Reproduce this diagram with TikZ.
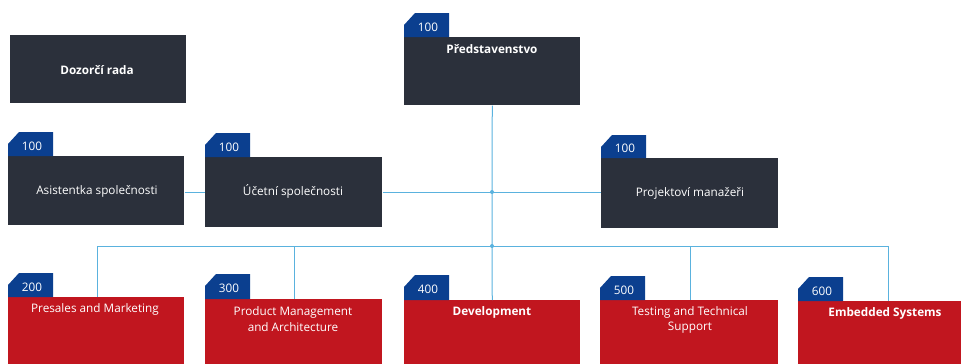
\documentclass[tikz,border=0pt]{standalone}
\usepackage{fontspec}
\setmainfont{Open Sans}
\definecolor{darkbox}{HTML}{2B303B}
\definecolor{tabblue}{HTML}{0B3F8F}
\definecolor{redbox}{HTML}{C1161F}
\definecolor{linkblue}{HTML}{5AB2DE}
\newcommand{\orgtab}[5]{% name, x, tabtop, boxtop, number
  \fill[tabblue] (#2,#3+12) -- (#2+11,#3) -- (#2+45,#3) -- (#2+45,#4) -- (#2,#4) -- cycle;
  \node[tabtxt] (#1) at (#2+24,{(#3+#4)/2+2}) {#5};
}
\begin{document}
\begin{tikzpicture}[x=0.75pt,y=-0.75pt,
  darkb/.style={fill=darkbox,draw=none,inner sep=0pt,anchor=north west},
  redb/.style={fill=redbox,draw=none,inner sep=0pt,anchor=north west},
  boxtxt/.style={text=white,font=\fontsize{8.8}{11.5}\selectfont,align=center,inner sep=0pt},
  boldtxt/.style={boxtxt,font=\fontsize{8.8}{11.5}\selectfont\bfseries},
  tabtxt/.style={text=white,font=\fontsize{8.8}{10}\selectfont,inner sep=0pt},
  link/.style={draw=linkblue,line width=0.75pt},
  dot/.style={circle,fill=linkblue,inner sep=0pt,minimum size=3pt}]
\useasboundingbox (0,0) rectangle (961,364);
% dark boxes
\node[darkb,minimum width=176*0.75pt,minimum height=68*0.75pt] (dozor) at (10,35) {};
\node[boldtxt] (dozorT) at (97,70) {Dozorčí rada};
\node[darkb,minimum width=176*0.75pt,minimum height=68*0.75pt] (pred) at (404,37) {};
\node[boldtxt] (predT) at (492,49) {Představenstvo};
\orgtab{predN}{404}{13}{37}{100}
\node[darkb,minimum width=176*0.75pt,minimum height=69*0.75pt] (asis) at (8,156) {};
\node[boxtxt] (asisT) at (97,191) {Asistentka společnosti};
\orgtab{asisN}{8}{132}{156}{100}
\node[darkb,minimum width=177*0.75pt,minimum height=70*0.75pt] (ucet) at (205,157) {};
\node[boxtxt] (ucetT) at (293,191) {Účetní společnosti};
\orgtab{ucetN}{205}{133}{157}{100}
\node[darkb,minimum width=177*0.75pt,minimum height=70*0.75pt] (proj) at (601,158) {};
\node[boxtxt] (projT) at (690,193) {Projektoví manažeři};
\orgtab{projN}{601}{135}{158}{100}
% red boxes
\node[redb,minimum width=176*0.75pt,minimum height=67*0.75pt] (pres) at (8,297) {};
\node[boxtxt] (presT) at (95,309) {Presales and Marketing};
\orgtab{presN}{8}{273}{297}{200}
\node[redb,minimum width=177*0.75pt,minimum height=65*0.75pt] (prod) at (205,299) {};
\node[boxtxt] (prodT) at (293,319) {Product Management\\and Architecture};
\orgtab{prodN}{205}{274}{299}{300}
\node[redb,minimum width=176*0.75pt,minimum height=64*0.75pt] (dev) at (404,300) {};
\node[boldtxt] (devT) at (492,312) {Development};
\orgtab{devN}{404}{275}{300}{400}
\node[redb,minimum width=178*0.75pt,minimum height=64*0.75pt] (test) at (600,300) {};
\node[boxtxt] (testT) at (690,320) {Testing and Technical\\Support};
\orgtab{testN}{600}{276}{300}{500}
\node[redb,minimum width=163*0.75pt,minimum height=63*0.75pt] (emb) at (798,301) {};
\node[boldtxt] (embT) at (885,313) {Embedded Systems};
\orgtab{embN}{798}{277}{301}{600}
% connectors
\coordinate (j1) at (492,192);
\coordinate (j2) at (492,246);
\coordinate (bl) at (97,246);
\coordinate (br) at (888,246);
\draw[link] (asis.east |- j1) -- (ucet.west |- j1);
\draw[link] (ucet.east |- j1) -- (proj.west |- j1);
\draw[link] (pred.south) -- (j2);
\draw[link] (bl) -- (br);
\draw[link] (bl) -- (bl |- pres.north);
\draw[link] (294,246) -- (294,299);
\draw[link] (j2) -- (dev.north);
\draw[link] (690,246) -- (690,300);
\draw[link] (br) -- (br |- emb.north);
\node[dot] (d1) at (j1) {};
\node[dot] (d2) at (j2) {};
\end{tikzpicture}
\end{document}
